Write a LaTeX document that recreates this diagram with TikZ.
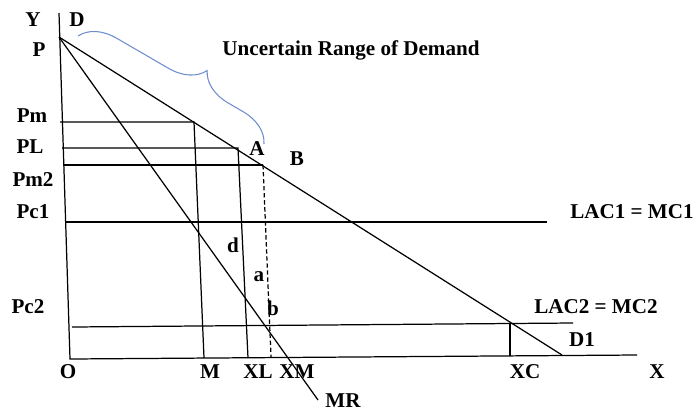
\documentclass[tikz,border=0pt]{standalone}
\usepackage{fontspec}
\setmainfont{Liberation Serif}
\usepackage{xcolor}
\usepackage{tikz}
\usetikzlibrary{calc, positioning, decorations.pathreplacing}

\definecolor{bracecol}{RGB}{110,140,205}

\begin{document}
\begin{tikzpicture}[x=0.02cm, y=-0.02cm, line width=0.7pt,
    lbl/.style={font=\fontsize{12}{14}\selectfont\bfseries, inner sep=0pt}]
    \useasboundingbox (0,0) rectangle (699,413);

    % 1. Axes
    \coordinate (Ytop) at (59,13);
    \coordinate (O) at (70,359);
    \coordinate (Xend) at (637,355);
    \draw (Ytop) -- (O) -- (Xend);

    % 2. Demand curve and marginal revenue
    \coordinate (P) at (59,37);
    \coordinate (Dend) at (562,355);
    \coordinate (MRend) at (318,400);
    \draw (P) -- (Dend);
    \draw (P) -- (MRend);

    % 3. Price levels and quantities
    \coordinate (Pm0) at (60,122);  \coordinate (Pm1) at (194,122);  \coordinate (Mq) at (204,358);
    \coordinate (PL0) at (62,148);  \coordinate (PL1) at (238,148);  \coordinate (XLq) at (248,358);
    \coordinate (Pn0) at (63,165);  \coordinate (Pn1) at (263,165);  \coordinate (XMq) at (271,357);
    \draw (Pm0) -- (Pm1) -- (Mq);
    \draw (PL0) -- (PL1) -- (XLq);
    \draw (Pn0) -- (Pn1);
    \draw[dash pattern=on 2.5pt off 1.5pt] (Pn1) -- (XMq);

    % 4. Cost lines
    \coordinate (C10) at (65,222);  \coordinate (C11) at (547,222);
    \coordinate (C20) at (72,327);  \coordinate (C21) at (573,323);
    \coordinate (XCt) at (510,324); \coordinate (XCq) at (510,356);
    \draw (C10) -- (C11);
    \draw (C20) -- (C21);
    \draw (XCt) -- (XCq);

    % 5. Brace of the uncertain range
    \coordinate (BrS) at (78,36);
    \coordinate (BrE) at (264,144);
    \draw[bracecol, line width=0.6pt, decorate,
        decoration={brace, amplitude=0.7cm, aspect=0.6}] (BrS) -- (BrE);

    % 6. Labels
    \foreach \n/\x/\y/\t in {ylab/33/20/Y, dlab/77/20/D, plab/39/50/P,
        pmlab/32/116/Pm, pllab/30/147/PL, pm2lab/33/180/Pm2,
        pc1lab/33/212/Pc1, pc2lab/28/307/Pc2,
        olab/68/372/O, mlab/210/372/M, xllab/258/372/XL, xmlab/297/372/XM,
        xclab/525/372/XC, xlab/657/372/X, mrlab/343/401/MR,
        alab/257/149/A, blab/297/159/B, dsmall/233/245/d, asmall/259/277/a,
        bsmall/273/308/b, d1lab/582/340/D1} {
        \node[lbl] (\n) at (\x,\y) {\t};
    }
    \node[lbl] (lac1) at (632,212) {LAC1 = MC1};
    \node[lbl] (lac2) at (596,307) {LAC2 = MC2};
    \node[lbl] (range) at (351,50) {Uncertain Range of Demand};
\end{tikzpicture}
\end{document}
